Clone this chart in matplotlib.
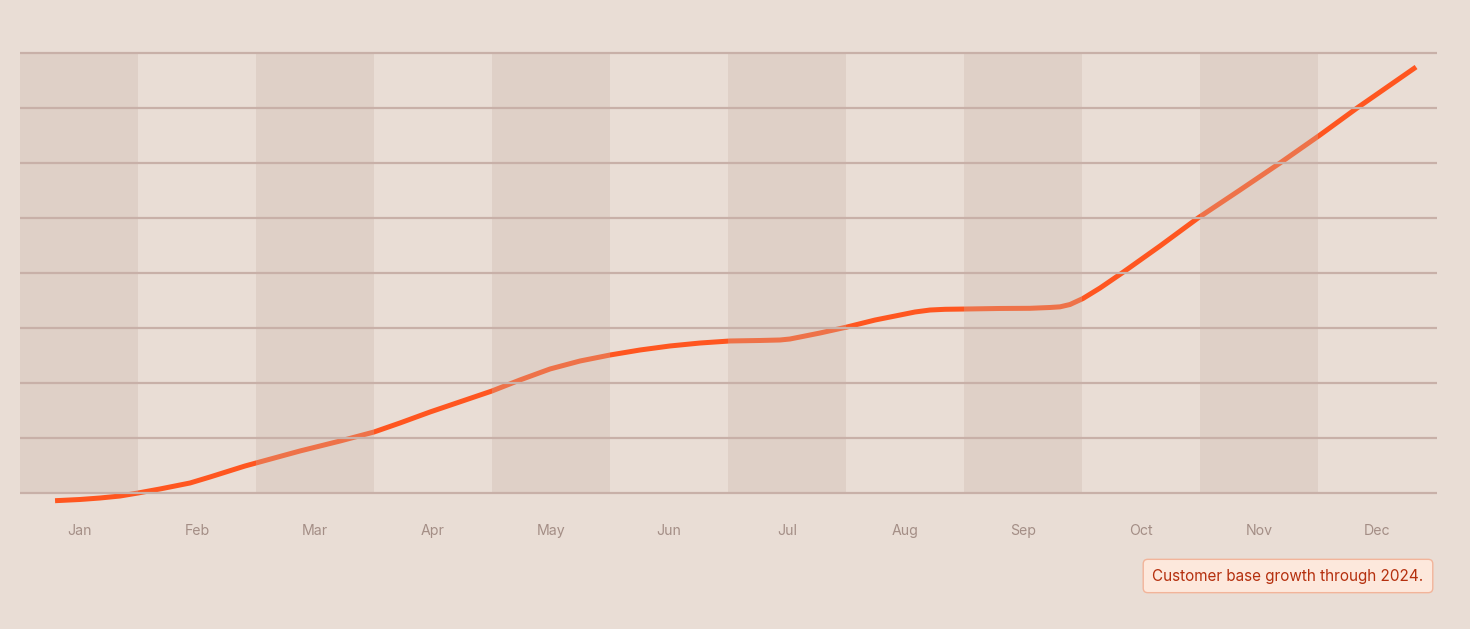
import matplotlib.pyplot as plt
import numpy as np

months = ['Jan', 'Feb', 'Mar', 'Apr', 'May', 'Jun',
          'Jul', 'Aug', 'Sep', 'Oct', 'Nov', 'Dec']

# line, x in month units (Jan = 0), y in grid steps
x_pos = [-0.203, 0.008, 0.178, 0.347, 0.5, 0.686, 0.941, 1.110, 1.407, 1.873,
         2.212, 2.5, 2.720, 2.975, 3.5, 3.737, 3.992, 4.246, 4.5, 4.754,
         5.008, 5.263, 5.517, 5.771, 5.941, 6.025, 6.110, 6.280, 6.508, 6.746,
         6.958, 7.085, 7.212, 7.339, 7.508, 7.805, 8.059, 8.229, 8.314, 8.398,
         8.508, 8.653, 8.839, 9.161, 9.483, 9.839, 10.178, 10.517, 10.831, 11.331]
growth = [-0.140, -0.118, -0.091, -0.055, 0.0, 0.073, 0.182, 0.291, 0.491, 0.764,
          0.945, 1.109, 1.273, 1.473, 1.855, 2.055, 2.255, 2.4, 2.509, 2.6,
          2.673, 2.727, 2.764, 2.773, 2.782, 2.8, 2.836, 2.909, 3.018, 3.145,
          3.236, 3.291, 3.327, 3.340, 3.345, 3.355, 3.358, 3.373, 3.385, 3.427,
          3.536, 3.727, 4.0, 4.491, 5.0, 5.509, 6.0, 6.509, 7.0, 7.745]
grid_levels = list(range(9))
note = 'Customer base growth through 2024.'

bg = '#e9ddd5'
fig = plt.figure(figsize=(14.7, 6.29), dpi=100, facecolor=bg)
ax = fig.add_axes([0, 0, 1, 1])
ax.set_facecolor(bg)
ax.set_xlim(-79 / 118, 1391 / 118)
ax.set_ylim(-136 / 55, 493 / 55)
ax.axis('off')

ax.plot(x_pos, growth, color='#ff5620', lw=3.6, solid_capstyle='butt',
        solid_joinstyle='round', zorder=2)

# shaded month bands sit over the line, tinting it
band_x = np.arange(0, 12, 2)
ax.bar(band_x, height=grid_levels[-1], width=1, bottom=0, color='#c8b4a8',
       alpha=0.3, linewidth=0, zorder=3)

ax.hlines(grid_levels, -0.5, 11.508, color='#c8b0a8', lw=1.6, zorder=4)

for i, m in enumerate(months):
    ax.text(i, -0.69, m, ha='center', va='center', fontsize=10.2,
            color='#a48e86', family='Inter')

ax.text(1288 / 1470, 1 - 576 / 629, note, transform=fig.transFigure,
        ha='center', va='center', fontsize=11, color='#b5300e', family='Inter',
        bbox=dict(boxstyle='round,pad=0.6,rounding_size=0.3', fc='#fde8dc',
                  ec='#f2b49a', lw=1))

fig.savefig('out.png', dpi=100, facecolor=bg)
